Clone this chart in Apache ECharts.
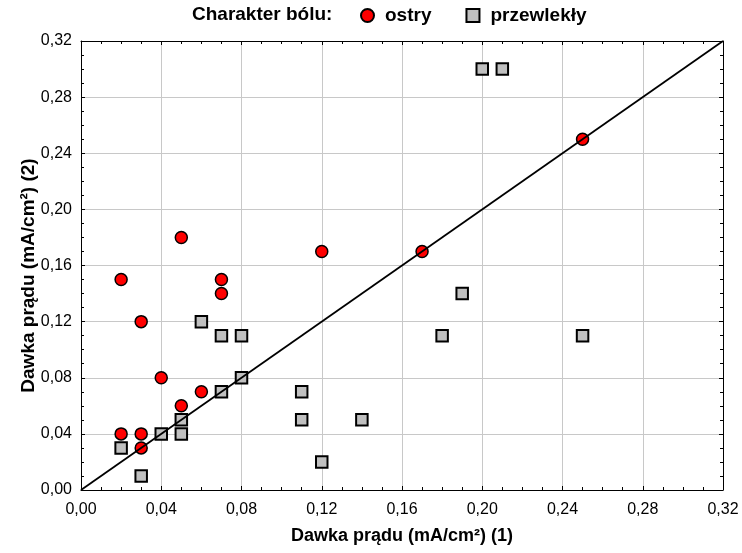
<!DOCTYPE html>
<html>
<head>
<meta charset="utf-8">
<script src="https://cdn.jsdelivr.net/npm/echarts@6/dist/echarts.min.js"></script>
<style>
  html, body { margin: 0; padding: 0; background: #fff; }
  #chart { width: 742px; height: 553px; }
</style>
</head>
<body>
<div id="chart"></div>
<script>
// ostry (acute) - red circles, [x, y]
const ostry = [
  [0.02, 0.15], [0.02, 0.04], [0.03, 0.12], [0.03, 0.04], [0.03, 0.03],
  [0.04, 0.08], [0.05, 0.18], [0.05, 0.06], [0.06, 0.07], [0.07, 0.15],
  [0.07, 0.14], [0.12, 0.17], [0.17, 0.17], [0.25, 0.25]
]
// przewlekly (chronic) - grey squares
const przewlekly = [
  [0.02, 0.03], [0.03, 0.01], [0.04, 0.04], [0.05, 0.05], [0.05, 0.04],
  [0.06, 0.12], [0.07, 0.11], [0.07, 0.07], [0.08, 0.11], [0.08, 0.08],
  [0.11, 0.07], [0.11, 0.05], [0.12, 0.02], [0.14, 0.05], [0.18, 0.11],
  [0.19, 0.14], [0.20, 0.30], [0.21, 0.30], [0.25, 0.11]
]
// y = x reference line
const diagonal = [[0, 0], [0.32, 0.32]]

const axisMin = 0
const axisMax = 0.32
const axisStep = 0.04

const font = 'Liberation Sans, Arial, sans-serif'
const fmt = v => v.toFixed(2).replace('.', ',')

function makeAxis(extra) {
  return Object.assign({
    type: 'value',
    min: axisMin,
    max: axisMax,
    interval: axisStep,
    nameMoveOverlap: false,
    axisLine: { show: true, onZero: false, lineStyle: { color: '#000', width: 1 } },
    axisTick: { show: true, inside: true, length: 4, lineStyle: { color: '#000' } },
    minorTick: { show: true, splitNumber: 4, length: 3, lineStyle: { color: '#000' } },
    axisLabel: { show: true, color: '#000', fontSize: 16, fontFamily: font, formatter: fmt },
    splitLine: { show: true, lineStyle: { color: '#c8c8c8', width: 1 } },
    nameTextStyle: { color: '#000', fontSize: 18, fontWeight: 'bold', fontFamily: font }
  }, extra)
}

const chart = echarts.init(document.getElementById('chart'))
chart.setOption({
  animation: false,
  backgroundColor: '#fff',
  title: {
    text: 'Charakter bólu:',
    left: 187,
    top: 0,
    textStyle: { color: '#000', fontSize: 19, fontWeight: 'bold', fontFamily: font }
  },
  legend: {
    left: 355,
    top: 1,
    itemGap: 34,
    itemWidth: 13,
    itemHeight: 13,
    textStyle: { color: '#000', fontSize: 19, fontWeight: 'bold', fontFamily: font, padding: [0, 0, 0, 6] },
    data: ['ostry', 'przewlekły']
  },
  grid: { left: 81, right: 19, top: 41, bottom: 63 },
  xAxis: [
    makeAxis({
      position: 'bottom',
      name: 'Dawka prądu (mA/cm²) (1)',
      nameLocation: 'middle',
      nameGap: 37,
      axisLabel: { show: true, color: '#000', fontSize: 16, fontFamily: font, formatter: fmt, margin: 12 }
    }),
    makeAxis({ position: 'top', axisLabel: { show: false }, splitLine: { show: false } })
  ],
  yAxis: [
    makeAxis({
      position: 'left',
      name: 'Dawka prądu (mA/cm²) (2)',
      nameLocation: 'middle',
      nameGap: 43,
      nameTextStyle: { color: '#000', fontSize: 19, fontWeight: 'bold', fontFamily: font, padding: [0, 20, 0, 0] },
      axisLabel: { show: true, color: '#000', fontSize: 16, fontFamily: font, formatter: fmt, margin: 9 }
    }),
    makeAxis({ position: 'right', axisLabel: { show: false }, splitLine: { show: false } })
  ],
  series: [
    {
      name: 'ostry',
      type: 'scatter',
      data: ostry,
      symbol: 'circle',
      symbolSize: 12,
      itemStyle: { color: '#ff0000', borderColor: '#000', borderWidth: 1.5, opacity: 1 },
      z: 3
    },
    {
      name: 'przewlekły',
      type: 'scatter',
      data: przewlekly,
      symbol: 'rect',
      symbolSize: 11.5,
      itemStyle: { color: '#c0c0c0', borderColor: '#000', borderWidth: 2, opacity: 1 },
      z: 3
    },
    {
      name: 'y=x',
      type: 'line',
      data: diagonal,
      symbol: 'none',
      silent: true,
      lineStyle: { color: '#000', width: 1.8 },
      z: 5
    }
  ]
})
</script>
</body>
</html>
